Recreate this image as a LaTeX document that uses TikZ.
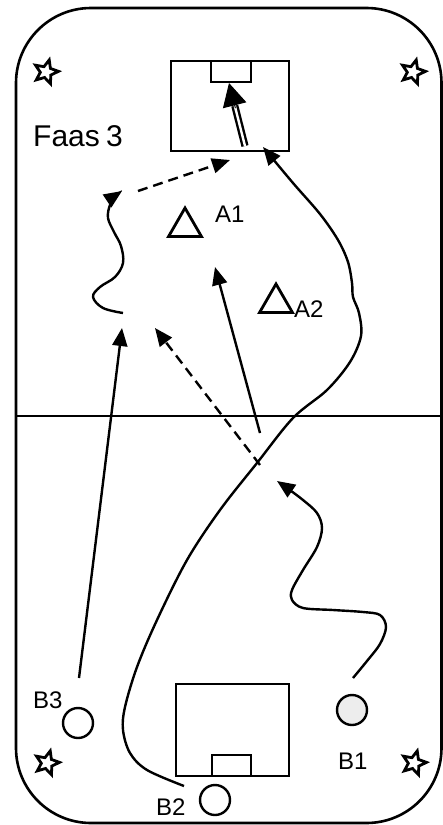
\documentclass[tikz,border=0pt]{standalone}
\usepackage{fontspec}
\setmainfont{Liberation Sans}
\usetikzlibrary{arrows.meta,shapes.geometric,calc}
\begin{document}
\begin{tikzpicture}[x=1pt,y=-1pt,
  ln/.style={line width=2.4pt},
  arr/.style={ln,-{Triangle[length=18pt,width=15pt]}},
  darr/.style={ln,dash pattern=on 10pt off 6pt,-{Triangle[length=18pt,width=15pt]}},
  player/.style={circle,draw,line width=2.4pt,minimum size=30pt,inner sep=0pt},
  lbl/.style={font=\fontsize{24}{28}\selectfont,inner sep=0pt,anchor=base west},
  cornerstar/.style={star,star points=5,star point ratio=2.2,draw,line width=2.8pt,minimum size=25pt,inner sep=0pt,rotate=-15},
  tri/.style={regular polygon,regular polygon sides=3,draw,line width=2.8pt,minimum size=38pt,inner sep=0pt}
]
\useasboundingbox (0,0) rectangle (443,825);
% field
\draw[line width=2.6pt,rounded corners=75pt] (16,8) rectangle (441.5,823);
\draw[line width=2.6pt] (16,416) -- (441.5,416);
% goals
\draw[ln] (171,61) rectangle (289,151);
\draw[ln] (211,61) rectangle (251,82);
\draw[ln] (176,684) rectangle (289,776);
\draw[ln] (212,755) rectangle (251,776);
% corner marks
\node[cornerstar] (s1) at (46,72) {};
\node[cornerstar] (s2) at (413,72) {};
\node[cornerstar] (s3) at (47,763) {};
\node[cornerstar] (s4) at (414,763) {};
% title
\node[lbl,font=\fontsize{30}{34}\selectfont] (title) at (33,146) {Faas\kern-2pt\ 3};
% defenders
\node[tri] (a1) at (185,227) {};
\node[lbl] (a1l) at (215,222) {A1};
\node[tri] (a2) at (276,303) {};
\node[lbl] (a2l) at (294,317) {A2};
% players
\node[player] (b3) at (78,723) {};
\node[lbl] (b3l) at (33,708) {B3};
\node[player,fill=black!7] (b1) at (352,710) {};
\node[lbl] (b1l) at (338,769) {B1};
\node[player] (b2) at (215,800) {};
\node[lbl] (b2l) at (156,815) {B2};
% coordinates
\coordinate (shot0) at (245,146);
\coordinate (shot1) at (229,83);
\coordinate (p0) at (138,191);
\coordinate (p1) at (230,160);
\coordinate (b3e) at (79,678);
\coordinate (b3t) at (122,328);
\coordinate (d0) at (260,465);
\coordinate (d1) at (155,328);
\coordinate (r0) at (260,433);
\coordinate (r1) at (215,267);
% shot at goal (double line)
\draw[line width=2.4pt,double,double distance=2.4pt] (shot0) -- ($(shot0)!0.64!(shot1)$);
\draw[line width=1pt,-{Triangle[length=23pt,width=24pt]}] ($(shot0)!0.6!(shot1)$) -- (shot1);
% pass top
\draw[darr] (p0) -- (p1);
% B3 run
\draw[arr] (b3e) -- (b3t);
% dashed pass
\draw[darr] (d0) -- (d1);
% run
\draw[arr] (r0) -- (r1);
% dribble left
\draw[arr] plot[smooth,tension=0.6] coordinates {(123,313) (103,308) (93,297) (100,287) (115,277) (123,263) (121,246) (114,232) (108,218) (110,205) (116,196) (122,191)};
% B2 long run
\draw[arr] plot[smooth,tension=0.55] coordinates {(184,786) (147,770) (130,753) (123,730) (125,707) (137,667) (157,620) (187,560) (220,510) (257,463) (293,418) (327,390) (350,362) (361,336) (359,313) (353,297) (352,283) (348,262) (338,240) (320,214) (293,183) (263,147)};
% B1 dribble
\draw[arr] plot[smooth,tension=0.55] coordinates {(353,678) (367,661) (380,644) (386,627) (380,615) (363,612) (333,610) (303,608) (292,600) (292,590) (303,570) (317,547) (322,528) (317,513) (303,500) (287,488) (277,481)};
\end{tikzpicture}
\end{document}
